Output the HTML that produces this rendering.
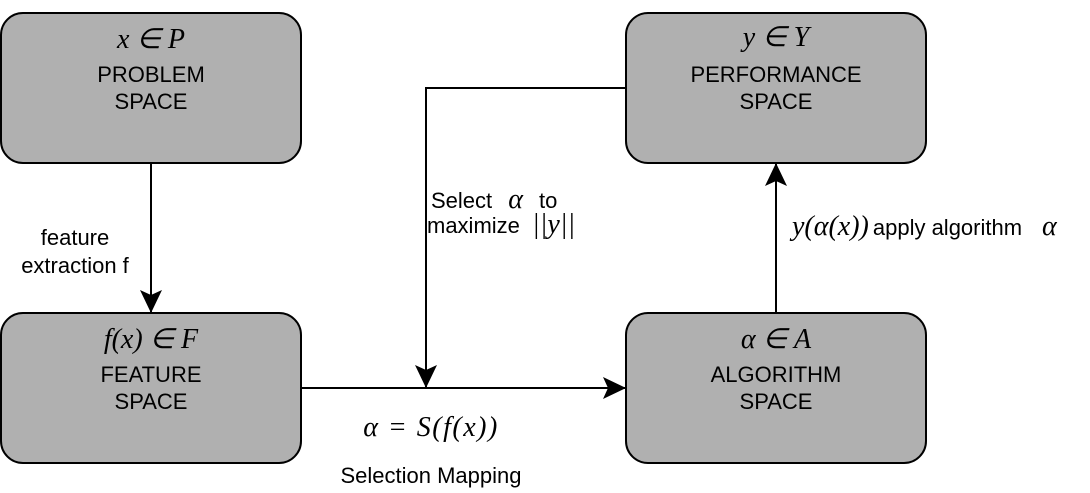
<!DOCTYPE html>
<html><head><meta charset="utf-8"><style>
html,body{margin:0;padding:0;background:#fff;width:1090px;height:493px;overflow:hidden}
.m{font-family:"Liberation Serif",serif;font-style:italic;font-size:28px}
.s{font-family:"Liberation Sans",sans-serif;font-size:22px}
</style></head><body>
<svg width="1090" height="493" viewBox="0 0 1090 493">
<defs>
<marker id="ar2" viewBox="0 0 24 24" refX="22" refY="12" markerWidth="24" markerHeight="24" markerUnits="userSpaceOnUse" orient="auto"><path d="M0,1 L23,12 L0,23 L5,12 z" fill="#000"/></marker></defs>
<g>
<rect x="1" y="13" width="300" height="150" rx="22" fill="#b0b0b0" stroke="#000" stroke-width="2"/>
<text class="m" x="151" y="48" text-anchor="middle">x ∈ P</text>
<text class="s" x="151" y="82" text-anchor="middle">PROBLEM</text>
<text class="s" x="151" y="109" text-anchor="middle">SPACE</text></g>
<g>
<rect x="626" y="13" width="300" height="150" rx="22" fill="#b0b0b0" stroke="#000" stroke-width="2"/>
<text class="m" x="776" y="46" text-anchor="middle">y ∈ Y</text>
<text class="s" x="776" y="82" text-anchor="middle">PERFORMANCE</text>
<text class="s" x="776" y="109" text-anchor="middle">SPACE</text></g>
<g>
<rect x="1" y="313" width="300" height="150" rx="22" fill="#b0b0b0" stroke="#000" stroke-width="2"/>
<text class="m" x="151" y="348" text-anchor="middle">f(x) ∈ F</text>
<text class="s" x="151" y="382" text-anchor="middle">FEATURE</text>
<text class="s" x="151" y="409" text-anchor="middle">SPACE</text></g>
<g>
<rect x="626" y="313" width="300" height="150" rx="22" fill="#b0b0b0" stroke="#000" stroke-width="2"/>
<text class="m" x="776" y="348" text-anchor="middle">α ∈ A</text>
<text class="s" x="776" y="382" text-anchor="middle">ALGORITHM</text>
<text class="s" x="776" y="409" text-anchor="middle">SPACE</text></g>
<line x1="151" y1="163" x2="151" y2="312" stroke="#000" stroke-width="2" marker-end="url(#ar2)"/>
<line x1="301" y1="388" x2="625" y2="388" stroke="#000" stroke-width="2" marker-end="url(#ar2)"/>
<polyline points="626,88 426,88 426,387" fill="none" stroke="#000" stroke-width="2" marker-end="url(#ar2)"/>
<line x1="776" y1="313" x2="776" y2="164" stroke="#000" stroke-width="2" marker-end="url(#ar2)"/>
<text class="s" x="75" y="245" text-anchor="middle">feature</text>
<text class="s" x="75" y="273" text-anchor="middle">extraction f</text>
<text class="s" x="431" y="208">Select <tspan class="m" dx="10">α</tspan><tspan dx="16">to</tspan></text>
<text class="s" x="427" y="233">maximize <tspan class="m" dx="6">||y||</tspan></text>
<text class="m" x="792" y="235">y(α(x))<tspan class="s" font-style="normal" dx="4">apply algorithm</tspan><tspan dx="20">α</tspan></text>
<text class="m" x="431" y="436" text-anchor="middle" letter-spacing="1.5">α = S(f(x))</text>
<text class="s" x="431" y="483" text-anchor="middle">Selection Mapping</text>
</svg>
</body></html>
